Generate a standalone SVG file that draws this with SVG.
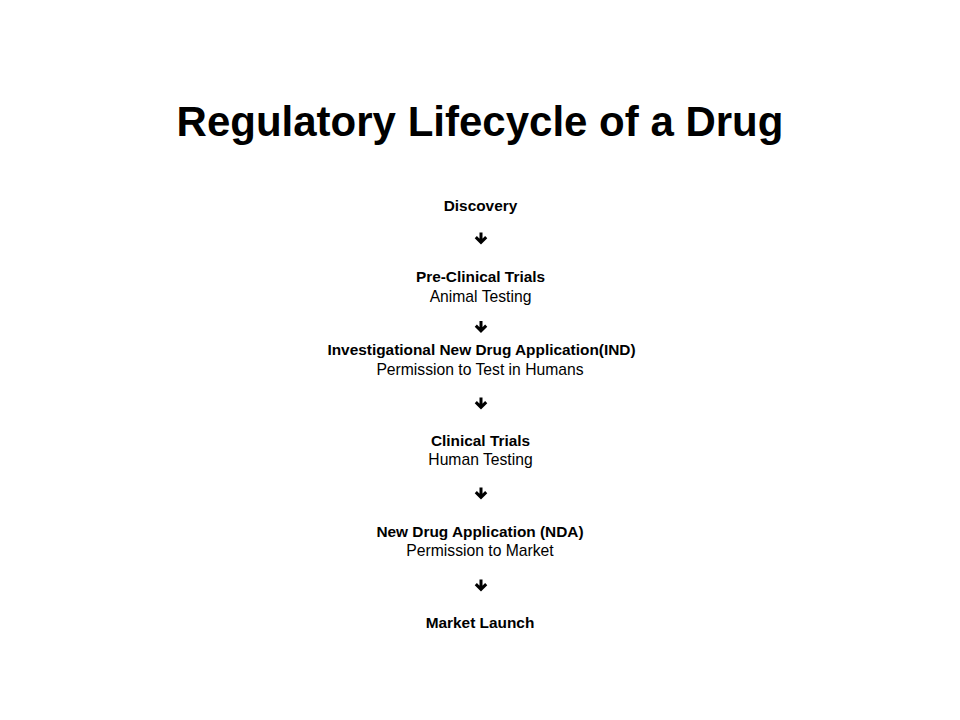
<svg xmlns="http://www.w3.org/2000/svg" width="960" height="720" viewBox="0 0 960 720">
<style>
text{font-family:"Liberation Sans",Arial,sans-serif;fill:#000;text-anchor:middle}
.title{font-size:42px;font-weight:bold}
.b{font-size:15.4px;font-weight:bold}
.r{font-size:15.7px}
.arr{fill:none;stroke:#000;stroke-width:3;stroke-linecap:butt;stroke-linejoin:miter}
</style>
<defs>
<path id="dn" class="arr" d="M0,0 V10 M-5.2,4.6 L0,9.8 L5.2,4.6"/>
</defs>
<rect width="960" height="720" fill="#fff"/>
<text class="title" x="480" y="135.5">Regulatory Lifecycle of a Drug</text>
<g id="n1"><text class="b" x="480.5" y="210.5">Discovery</text></g>
<g id="n2"><text class="b" x="480.5" y="281.5">Pre-Clinical Trials</text><text class="r" x="480.5" y="301.5">Animal Testing</text></g>
<g id="n3"><text class="b" x="481.5" y="355">Investigational New Drug Application(IND)</text><text class="r" x="480" y="375">Permission to Test in Humans</text></g>
<g id="n4"><text class="b" x="480.5" y="446">Clinical Trials</text><text class="r" x="480.5" y="465">Human Testing</text></g>
<g id="n5"><text class="b" x="480" y="536.5">New Drug Application (NDA)</text><text class="r" x="480" y="556">Permission to Market</text></g>
<g id="n6"><text class="b" x="480" y="628">Market Launch</text></g>
<g id="connectors">
<use href="#dn" x="481" y="232.5"/>
<use href="#dn" x="481" y="321"/>
<use href="#dn" x="481" y="397.5"/>
<use href="#dn" x="481" y="487.5"/>
<use href="#dn" x="481" y="579.5"/>
</g>
</svg>
